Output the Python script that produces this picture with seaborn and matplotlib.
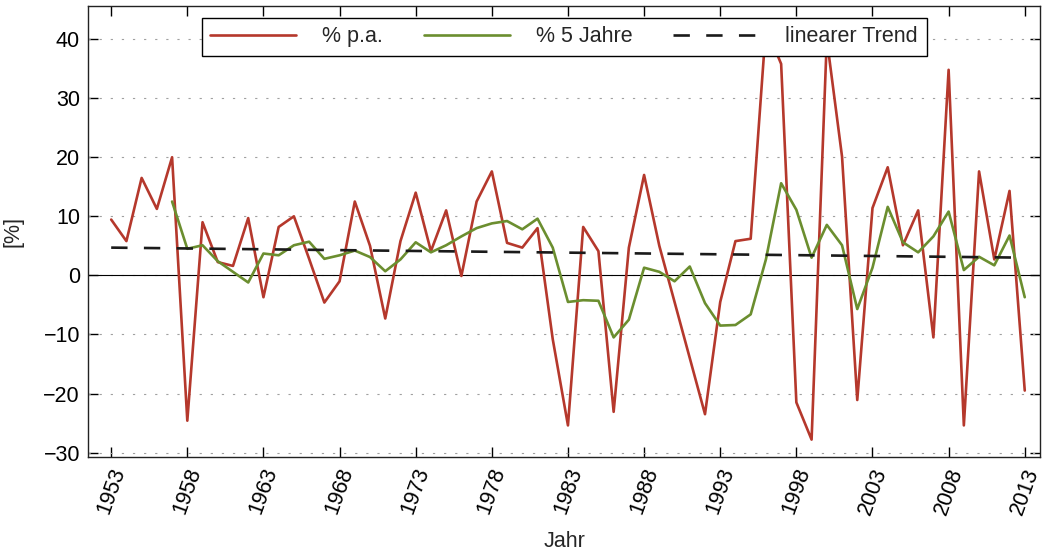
import numpy as np
import pandas as pd
import matplotlib
matplotlib.use("Agg")
import matplotlib.pyplot as plt
import seaborn as sns

# data
years = list(range(1953, 2014))
pa = [9.45, 5.8, 16.5, 11.25, 20.0, -24.6, 9.0, 2.25, 1.6, 9.7,
      -3.7, 8.2, 10.0, 2.8, -4.6, -1.0, 12.5, 5.0, -7.3, 5.8,
      14.0, 4.1, 11.0, -0.1, 12.5, 17.6, 5.5, 4.7, 8.0, -10.8,
      -25.4, 8.2, 4.1, -23.1, 4.7, 17.0, 5.0, -4.5, -14.0, -23.5,
      -4.5, 5.8, 6.2, 42.0, 35.8, -21.5, -27.8, 40.0, 20.1, -21.1,
      11.4, 18.3, 5.1, 11.0, -10.5, 34.8, -25.4, 17.6, 2.7, 14.3,
      -19.5]

years5 = list(range(1957, 2014))
five = [12.5, 4.5, 5.1, 2.4, 0.6, -1.2, 3.7, 3.4, 5.1, 5.7,
        2.8, 3.4, 4.2, 3.1, 0.7, 2.7, 5.6, 3.9, 5.1, 6.6,
        8.0, 8.8, 9.2, 7.8, 9.6, 4.7, -4.5, -4.2, -4.3, -10.5,
        -7.5, 1.3, 0.6, -1.0, 1.5, -4.7, -8.5, -8.4, -6.6, 2.7,
        15.6, 11.1, 3.0, 8.55, 5.1, -5.7, 1.3, 11.6, 5.6, 3.9,
        6.6, 10.8, 0.9, 3.15, 1.7, 6.75, -3.7]

trend_years = [1953, 2013]
trend = [4.7, 3.0]

xticks = list(range(1953, 2014, 5))
yticks = list(range(-30, 41, 10))

sns.set_style("ticks")
plt.rcParams['font.family'] = ['Liberation Sans', 'DejaVu Sans']
fs = 15.5

df_pa = pd.DataFrame({"Jahr": years, "wert": pa})
df_5 = pd.DataFrame({"Jahr": years5, "wert": five})
df_tr = pd.DataFrame({"Jahr": trend_years, "wert": trend})

fig = plt.figure(figsize=(10.43, 5.52), dpi=100)
ax = fig.add_axes([0.0847, 0.1726, 0.9124, 0.8165])

sns.lineplot(data=df_pa, x="Jahr", y="wert", color="#B5382C", lw=1.9, label="% p.a.", ax=ax, zorder=3)
sns.lineplot(data=df_5, x="Jahr", y="wert", color="#6B8E2F", lw=1.9, label="% 5 Jahre", ax=ax, zorder=3)
sns.lineplot(data=df_tr, x="Jahr", y="wert", color="#1a1a1a", lw=1.9, ls=(0, (6.2, 6.2)),
             label="linearer Trend", ax=ax, zorder=4)

ax.axhline(0, color="black", lw=0.8, zorder=2)
for yy in yticks:
    ax.axhline(yy, color="#a0a0a0", lw=0.8, ls=(0, (2, 8)), zorder=1)

ax.set_xlim(1951.5, 2014)
ax.set_ylim(-30.7, 45.6)
ax.set_xticks(xticks)
ax.set_yticks(yticks)
ax.set_xticklabels([str(x) for x in xticks], rotation=70)
ax.tick_params(direction="in", length=7, width=1, top=True, right=True,
               labelsize=fs, colors="black")
ax.tick_params(axis="x", pad=6)
ax.tick_params(axis="y", pad=6)
for s in ax.spines.values():
    s.set_color("#222222")
    s.set_linewidth(1.0)

ax.set_xlabel("Jahr", fontsize=fs, labelpad=10)
ax.set_ylabel("[%]", fontsize=fs, labelpad=14)

ax.legend(loc="upper center", bbox_to_anchor=(0.5, 1), ncol=3, frameon=True,
          fancybox=False, edgecolor="black", framealpha=1, fontsize=fs,
          handlelength=4, handletextpad=1.2, columnspacing=1.9,
          borderaxespad=0.55, borderpad=0.4)

plt.savefig("out.png", dpi=100)
